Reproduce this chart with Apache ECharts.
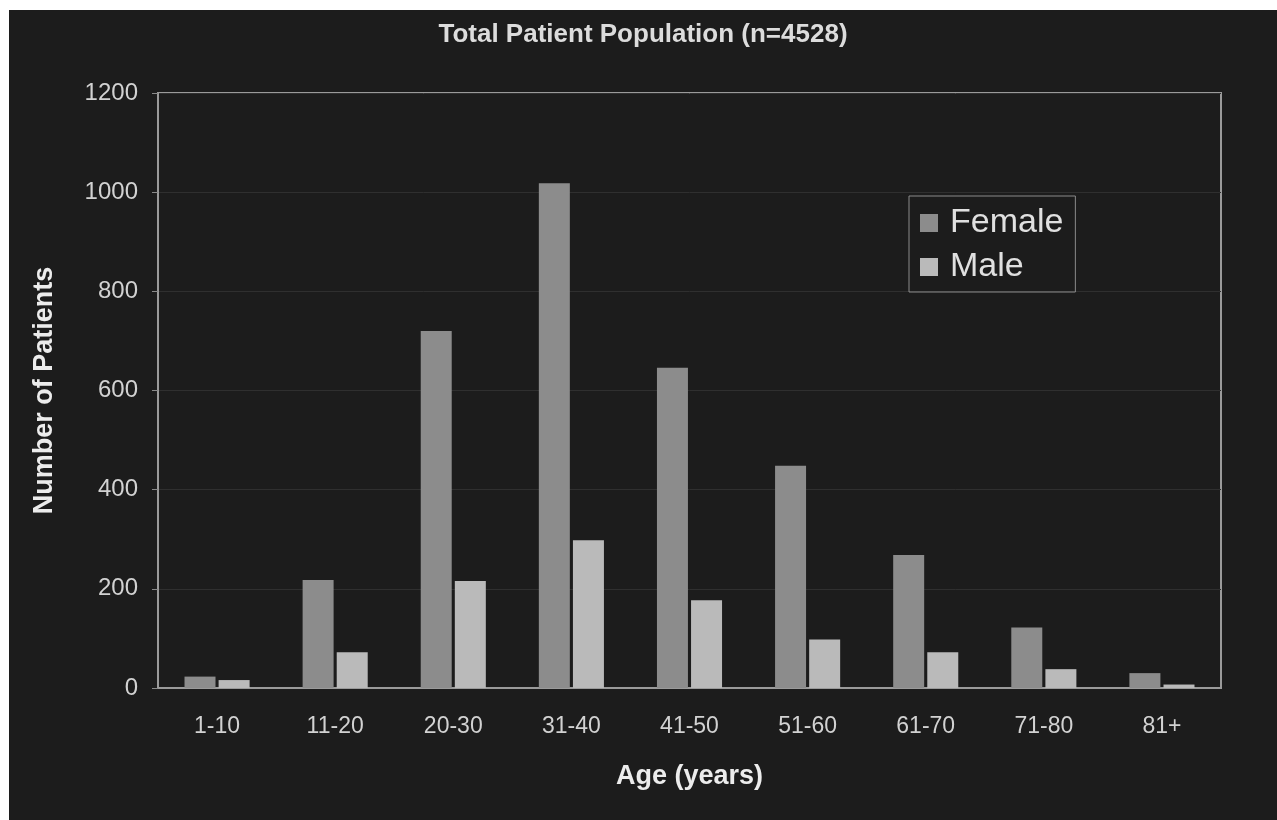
<!DOCTYPE html>
<html>
<head>
<meta charset="utf-8">
<script src="https://cdn.jsdelivr.net/npm/echarts@6/dist/echarts.min.js"></script>
<style>
  html, body { margin: 0; padding: 0; background: #ffffff; width: 1277px; height: 820px; overflow: hidden; }
  #chart { position: absolute; left: 9px; top: 10px; width: 1268px; height: 810px; }
</style>
</head>
<body>
<div id="chart"></div>
<script>
// Age groups and patient counts per sex
const ageGroups = ['1-10', '11-20', '20-30', '31-40', '41-50', '51-60', '61-70', '71-80', '81+'];
const femaleCounts = [23, 218, 720, 1018, 646, 448, 268, 122, 30];
const maleCounts = [16, 72, 216, 298, 177, 98, 72, 38, 7];

const subtitleText = 'Total Patient Population (n=4528)';
const xAxisTitle = 'Age (years)';
const yAxisTitle = 'Number of Patients';

const chart = echarts.init(document.getElementById('chart'));

const labelFont = 'Liberation Sans, Arial, sans-serif';

chart.setOption({
  backgroundColor: '#1c1c1c',
  animation: false,
  title: {
    text: subtitleText,
    left: 'center',
    top: 7,
    textStyle: { color: '#dcdcdc', fontFamily: labelFont, fontSize: 26, fontWeight: 'bold' }
  },
  legend: {
    orient: 'vertical',
    left: 900,
    top: 186,
    padding: [10, 12, 8, 11],
    itemGap: 10,
    itemWidth: 18,
    itemHeight: 18,
    icon: 'rect',
    borderColor: '#8a8a8a',
    borderWidth: 1,
    textStyle: { color: '#e0e0e0', fontFamily: labelFont, fontSize: 34, padding: [0, 0, 0, 7] },
    data: ['Female', 'Male']
  },
  grid: {
    left: 149, top: 83, right: 56, bottom: 132,
    show: true,
    borderColor: '#9a9a9a',
    borderWidth: 2,
    backgroundColor: 'transparent'
  },
  xAxis: {
    type: 'category',
    data: ageGroups,
    name: xAxisTitle,
    nameLocation: 'middle',
    nameGap: 75,
    nameTextStyle: { color: '#ececec', fontFamily: labelFont, fontSize: 27, fontWeight: 'bold' },
    axisLine: { show: true, lineStyle: { color: '#9a9a9a', width: 2 } },
    axisTick: { show: false },
    axisLabel: { color: '#d2d2d2', fontFamily: labelFont, fontSize: 23, margin: 27 }
  },
  yAxis: {
    type: 'value',
    min: 0,
    max: 1200,
    interval: 200,
    name: yAxisTitle,
    nameLocation: 'middle',
    nameGap: 100,
    nameTextStyle: { color: '#ececec', fontFamily: labelFont, fontSize: 27, fontWeight: 'bold' },
    axisLine: { show: true, lineStyle: { color: '#9a9a9a', width: 2 } },
    axisTick: { show: true, length: 6, lineStyle: { color: '#8a8a8a' } },
    axisLabel: {
      color: '#d2d2d2', fontFamily: labelFont, fontSize: 24, margin: 20,
      formatter: (v) => String(v)
    },
    splitLine: { show: true, lineStyle: { color: '#2f2f2f', width: 1 } }
  },
  series: [
    {
      name: 'Female',
      type: 'bar',
      data: femaleCounts,
      barWidth: 31,
      barGap: '10%',
      itemStyle: { color: '#8c8c8c' }
    },
    {
      name: 'Male',
      type: 'bar',
      data: maleCounts,
      barWidth: 31,
      barGap: '10%',
      itemStyle: { color: '#bababa' }
    }
  ]
});
</script>
</body>
</html>
